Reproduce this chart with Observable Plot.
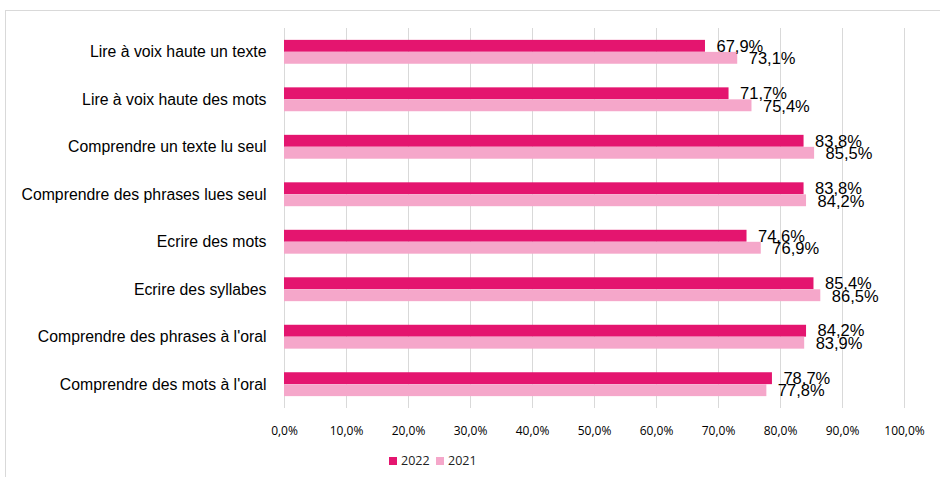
<!DOCTYPE html>
<html><head><meta charset="utf-8">
<script src="https://cdn.jsdelivr.net/npm/d3@7"></script>
<script src="https://cdn.jsdelivr.net/npm/@observablehq/plot@0.6"></script>
<style>
body{margin:0;background:#fff;width:940px;height:477px;overflow:hidden;position:relative;font-family:"Liberation Sans",Arial,sans-serif}
#frame{position:absolute;left:5px;top:10px;width:960px;height:500px;border:1px solid #d9d9d9;box-sizing:border-box}
#chart{position:absolute;left:0;top:0}
#legend{position:absolute;top:452px;left:0;width:940px;font-family:"Open Sans",sans-serif;font-size:12.5px;color:#222}
.li{position:absolute;display:flex;align-items:center;gap:4px}
.sw{width:8px;height:8px;display:inline-block}
</style></head><body>
<div id="frame"></div>
<div id="chart"></div>
<div id="legend"></div>
<script>
const categories = ["Lire à voix haute un texte","Lire à voix haute des mots","Comprendre un texte lu seul","Comprendre des phrases lues seul","Ecrire des mots","Ecrire des syllabes","Comprendre des phrases à l'oral","Comprendre des mots à l'oral"];
const values2022 = [67.9, 71.7, 83.8, 83.8, 74.6, 85.4, 84.2, 78.7];
const values2021 = [73.1, 75.4, 85.5, 84.2, 76.9, 86.5, 83.9, 77.8];
const series = ["2022","2021"];
const colors = ["#E4156F","#F5A7CA"];
const xTicks = [0,10,20,30,40,50,60,70,80,90,100];

const fmt = v => v.toFixed(1).replace(".", ",") + "%";
const d22 = categories.map((c,i)=>({cat:c, v:values2022[i]}));
const d21 = categories.map((c,i)=>({cat:c, v:values2021[i]}));

const chart = Plot.plot({
  width: 940, height: 440,
  marginLeft: 284, marginRight: 36, marginTop: 28, marginBottom: 32,
  style: {fontFamily: "'Liberation Sans', Arial, sans-serif", fontSize: "15.8px", color: "#000", background: "transparent"},
  x: {domain: [0,100], ticks: xTicks, tickFormat: d => d.toFixed(1).replace(".", ",") + "%", label: null, tickSize: 0, tickPadding: 18},
  y: {domain: categories, paddingInner: 0.497, paddingOuter: 0.25, round: false, label: null, tickSize: 0, tickPadding: 18},
  marks: [
    Plot.ruleX(xTicks, {stroke: "#d9d9d9", strokeWidth: 1}),
    Plot.barX(d22, {x: "v", y: "cat", fill: colors[0], insetBottom: 12}),
    Plot.barX(d21, {x: "v", y: "cat", fill: colors[1], insetTop: 12}),
    Plot.text(d22, {x: "v", y: "cat", text: d => fmt(d.v), dx: 11, dy: -6, textAnchor: "start", fontSize: 16.5, fill: "#000"}),
    Plot.text(d21, {x: "v", y: "cat", text: d => fmt(d.v), dx: 11, dy: 6.5, textAnchor: "start", fontSize: 16.5, fill: "#000"})
  ]
});
chart.querySelectorAll('[aria-label="x-axis tick label"] text').forEach(t=>{t.style.fontFamily="'Open Sans', sans-serif"; t.style.fontSize="12px";});
document.getElementById("chart").appendChild(chart);

const leg = document.getElementById("legend");
const pos = [389, 436];
series.forEach((s,i)=>{
  const d = document.createElement("div");
  d.className="li"; d.style.left = pos[i]+"px";
  d.innerHTML = `<span class="sw" style="background:${colors[i]}"></span><span>${s}</span>`;
  leg.appendChild(d);
});
</script>
</body></html>
